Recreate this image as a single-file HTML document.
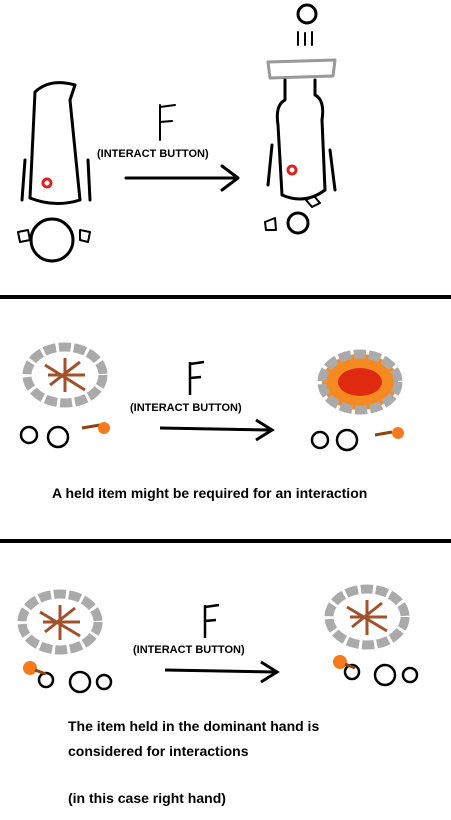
<!DOCTYPE html>
<html><head><meta charset="utf-8"><style>
html,body{margin:0;padding:0;background:#fff;}
svg{display:block;}
text{font-family:"Liberation Sans",sans-serif;}
</style></head><body>
<svg width="451" height="820" viewBox="0 0 451 820">
<g fill="none" stroke="#000" stroke-width="3" stroke-linecap="round" stroke-linejoin="round">
 <!-- panel 1 left -->
 <g>
  <path d="M35 92 Q50 78 75 85 L70 100 L80 200 Q55 208 30 198 L35 92"/>
  <path d="M25 160 L22 200 M88 160 L90 200"/>
 </g>
 <circle cx="47" cy="183" r="4" stroke="#d22"/>
 <g>
  <circle cx="52" cy="240" r="21"/>
  <path d="M18 232 L28 230 L30 240 L20 242 Z M80 230 L90 232 L88 242 L80 240 Z" stroke-width="2"/>
 </g>
 <!-- arrow 1 -->
 <path d="M126 178 L236 178 M222 166 L238 178 L222 190"/>
 <path d="M160 105 L160 140 M160 107 L175 105 M160 122 L172 121" stroke-width="2"/>
 <!-- panel 1 right -->
 <g>
  <path d="M268 62 L335 60 L333 76 L270 78 Z" stroke="#999" stroke-width="3"/>
  <path d="M285 80 L285 100 Q275 105 278 125 L282 195 Q305 205 325 190 L322 120 Q325 100 315 95 L315 80"/>
  <path d="M272 145 L268 185 M330 150 L335 190"/>
  <circle cx="307" cy="14" r="9"/>
  <path d="M298 32 L298 45 M305 33 L305 45 M312 32 L312 45" stroke-width="2"/>
 </g>
 <circle cx="292" cy="170" r="4" stroke="#d22"/>
 <circle cx="298" cy="223" r="10"/>
 <path d="M265 222 L275 218 L276 230 L266 230 Z M306 200 L314 196 L320 203 L312 207 Z" stroke-width="2"/>
</g>
<text x="97" y="157" font-size="11" font-weight="bold">(INTERACT BUTTON)</text>
<rect x="0" y="295" width="451" height="4" fill="#000"/>

<!-- panel 2 -->
<g>
 <ellipse cx="65" cy="375" rx="38" ry="28" fill="none" stroke="#aaa" stroke-width="9" stroke-dasharray="12 3"/>
 <path d="M45 365 L85 390 M50 385 L80 362 M65 358 L65 392 M48 375 L85 375" stroke="#a0522d" stroke-width="3"/>
</g>
<g fill="none" stroke="#000" stroke-width="2.5">
 <circle cx="29" cy="435" r="8"/><circle cx="58" cy="437" r="10"/>
 <path d="M160 428 L270 430 M256 420 L272 430 L256 440" stroke-width="3"/>
 <path d="M190 362 L190 395 M190 364 L204 362 M190 378 L201 377"/>
 <circle cx="320" cy="440" r="8"/><circle cx="347" cy="440" r="10"/>
</g>
<path d="M82 428 L100 425" stroke="#8b4513" stroke-width="3"/>
<circle cx="104" cy="428" r="6" fill="#f57b1e"/>
<path d="M375 435 L392 432" stroke="#8b4513" stroke-width="3"/>
<circle cx="398" cy="433" r="6" fill="#f57b1e"/>
<g>
 <ellipse cx="360" cy="382" rx="38" ry="28" fill="#f58a20" stroke="#aaa" stroke-width="9" stroke-dasharray="12 3"/>
 <ellipse cx="360" cy="382" rx="22" ry="14" fill="#e02a10"/>
</g>
<text x="130" y="411" font-size="11" font-weight="bold">(INTERACT BUTTON)</text>
<text x="52" y="498" font-size="14" font-weight="bold">A held item might be required for an interaction</text>
<rect x="0" y="539" width="451" height="4" fill="#000"/>

<!-- panel 3 -->
<g>
 <ellipse cx="60" cy="622" rx="38" ry="28" fill="none" stroke="#aaa" stroke-width="9" stroke-dasharray="12 3"/>
 <path d="M40 612 L80 636 M45 632 L75 608 M60 605 L60 640 M43 622 L80 622" stroke="#a0522d" stroke-width="3"/>
</g>
<g>
 <ellipse cx="367" cy="617" rx="38" ry="28" fill="none" stroke="#aaa" stroke-width="9" stroke-dasharray="12 3"/>
 <path d="M347 607 L387 631 M352 627 L382 603 M367 600 L367 635 M350 617 L387 617" stroke="#a0522d" stroke-width="3"/>
</g>
<g fill="none" stroke="#000" stroke-width="2.5">
 <circle cx="46" cy="680" r="7"/><circle cx="80" cy="682" r="10"/><circle cx="104" cy="682" r="7"/>
 <path d="M165 670 L275 672 M261 662 L277 672 L261 682" stroke-width="3"/>
 <path d="M205 605 L205 638 M205 607 L219 605 M205 621 L216 620"/>
 <circle cx="352" cy="672" r="7"/><circle cx="385" cy="675" r="10"/><circle cx="410" cy="675" r="7"/>
</g>
<circle cx="30" cy="668" r="7" fill="#f57b1e"/><path d="M35 670 L46 674" stroke="#8b4513" stroke-width="3"/>
<circle cx="340" cy="662" r="7" fill="#f57b1e"/><path d="M345 664 L355 668" stroke="#8b4513" stroke-width="3"/>
<text x="133" y="653" font-size="11" font-weight="bold">(INTERACT BUTTON)</text>
<text x="68" y="731" font-size="14" font-weight="bold">The item held in the dominant hand is</text>
<text x="68" y="756" font-size="14" font-weight="bold">considered for interactions</text>
<text x="68" y="803" font-size="14" font-weight="bold">(in this case right hand)</text>
</svg>
</body></html>
